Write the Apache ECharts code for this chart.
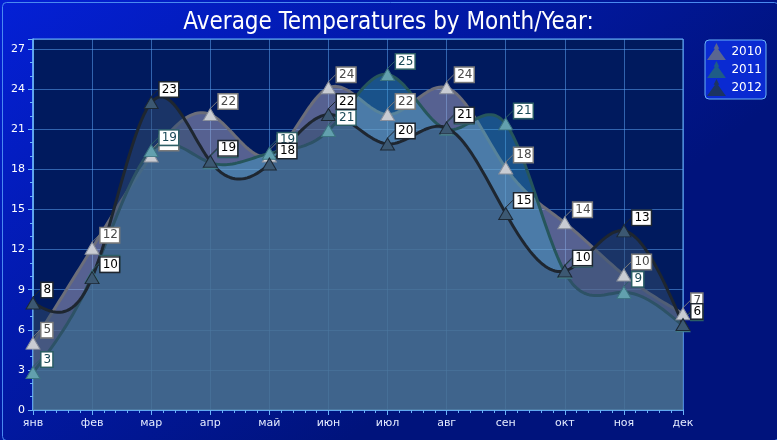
<!DOCTYPE html>
<html><head><meta charset="utf-8">
<script src="https://cdn.jsdelivr.net/npm/echarts@6/dist/echarts.min.js"></script>
<style>html,body{margin:0;padding:0;background:#001478}#c{width:777px;height:440px}</style>
</head><body><div id="c"></div>
<script>
const months = ['янв','фев','мар','апр','май','июн','июл','авг','сен','окт','ноя','дек'];
const years = ['2010','2011','2012'];
const t2010 = [5.0, 12.1, 19.0, 22.1, 19.0, 24.1, 22.1, 24.1, 18.1, 14.0, 10.1, 7.2];
const t2011 = [2.8, 10.0, 19.4, 18.5, 19.2, 20.9, 25.1, 21.0, 21.4, 10.3, 8.8, 6.3];
const t2012 = [8.0, 9.9, 23.0, 18.6, 18.4, 22.1, 19.9, 21.1, 14.7, 10.4, 13.4, 6.4];
const yTicks = [0, 3, 6, 9, 12, 15, 18, 21, 24, 27];

const styles = [
  {sym:'#c9ccd3', symB:'#8a909c', line:'#6c6e7a', area:'rgba(172,168,196,0.5)', lblB:'#7a7a7a', lblT:'#4a4a4a', leg:'#5a6690'},
  {sym:'#62a0ae', symB:'#3c7480', line:'#26565c', area:'rgba(60,160,200,0.42)', lblB:'#2c5e66', lblT:'#1c4a58', leg:'#1e5c88'},
  {sym:'#3c5872', symB:'#1c2834', line:'#1e2630', area:'rgba(52,78,112,0.5)', lblB:'#1e2630', lblT:'#000000', leg:'#1c3462'}
];
const allData = [t2010, t2011, t2012];

// natural cubic spline second derivatives (uniform spacing)
function splineM(ys) {
  const n = ys.length, M = new Array(n).fill(0);
  const m = n - 2, d = [];
  for (let i = 0; i < m; i++) {
    d[i] = 6 * (ys[i + 2] - 2 * ys[i + 1] + ys[i]);
  }
  const c = [], r = [];
  for (let i = 0; i < m; i++) {
    const b = 4 - (i > 0 ? c[i - 1] : 0);
    c[i] = 1 / b;
    r[i] = (d[i] - (i > 0 ? r[i - 1] : 0)) / b;
  }
  for (let i = m - 1; i >= 0; i--) {
    M[i + 1] = r[i] - (i < m - 1 ? c[i] * M[i + 2] : 0);
  }
  return M;
}
function splineVal(ys, M, i, t) {
  const u = 1 - t;
  return u * ys[i] + t * ys[i + 1] + ((u * u * u - u) * M[i] + (t * t * t - t) * M[i + 1]) / 6;
}

const series = [];
years.forEach((y, k) => {
  const ys = allData[k];
  const M = splineM(ys);
  series.push({
    name: y,
    type: 'custom',
    z: 2,
    silent: true,
    data: [[0, ys[0]]],
    renderItem: function (params, api) {
      const pts = [];
      const S = 24;
      for (let i = 0; i < ys.length - 1; i++) {
        for (let s = 0; s < S; s++) {
          const t = s / S;
          pts.push(api.coord([i + t, splineVal(ys, M, i, t)]));
        }
      }
      pts.push(api.coord([ys.length - 1, ys[ys.length - 1]]));
      const poly = pts.concat([api.coord([ys.length - 1, 0]), api.coord([0, 0])]);
      return {
        type: 'group',
        children: [
          {type: 'polygon', shape: {points: poly}, style: {fill: styles[k].area, stroke: null}},
          {type: 'polyline', shape: {points: pts}, style: {fill: null, stroke: styles[k].line, lineWidth: 3, lineJoin: 'round'}}
        ]
      };
    }
  });
  series.push({
    name: y,
    type: 'line',
    z: 2,
    data: ys.map((v, i) => [i, v]),
    symbol: 'triangle',
    symbolSize: [14, 12],
    itemStyle: {color: styles[k].sym, borderColor: styles[k].symB, borderWidth: 1},
    lineStyle: {width: 0, opacity: 0},
    label: {
      show: true, position: 'right', distance: 2,
      formatter: p => String(Math.round(p.value[1])),
      backgroundColor: '#ffffff', borderColor: styles[k].lblB, borderWidth: 1.5,
      padding: [1, 1, 0, 2], color: styles[k].lblT, fontSize: 12, lineHeight: 13,
      fontFamily: 'DejaVu Sans'
    },
    labelLayout: {dx: -1, dy: -13},
    labelLine: {show: true, lineStyle: {color: styles[k].lblB, width: 1}, length2: 0},
    emphasis: {disabled: true}
  });
});

const chart = echarts.init(document.getElementById('c'), null, {renderer: 'canvas'});
chart.setOption({
  animation: false,
  backgroundColor: {type: 'linear', x: 0, y: 0, x2: 0.45, y2: 1, colorStops: [
    {offset: 0, color: '#0420d6'}, {offset: 1, color: '#00137c'}]},
  title: {text: 'Average Temperatures by Month/Year:', left: 'center', top: 6,
    textStyle: {color: '#ffffff', fontSize: 24, fontWeight: 'normal', fontFamily: 'DejaVu Sans Condensed'}},
  legend: {
    right: 11, top: 40, orient: 'vertical', itemGap: 1, itemWidth: 20, itemHeight: 17,
    padding: [3, 4, 3, 2],
    backgroundColor: '#0a2ad2', borderColor: '#6ab4f8', borderWidth: 1, borderRadius: 4,
    textStyle: {color: '#ffffff', fontSize: 12, fontFamily: 'DejaVu Sans'},
    data: years.map((y, k) => ({name: y, icon: 'path://M10,0 L13,6 L7,6 Z M10,4 L20,18 L0,18 Z', itemStyle: {color: styles[k].leg, borderWidth: 0}}))
  },
  grid: {left: 33, right: 94, top: 39, bottom: 30, show: true, backgroundColor: '#001a5e', borderColor: '#6ab4f8', borderWidth: 1},
  xAxis: {
    type: 'value', min: 0, max: months.length - 1, interval: 1,
    axisLine: {show: true, lineStyle: {color: '#6ab4f8', width: 1.5}},
    axisTick: {show: true, inside: false, length: 5, lineStyle: {color: '#6ab4f8'}},
    minorTick: {show: true, splitNumber: 5, length: 3, lineStyle: {color: '#6ab4f8'}},
    splitLine: {show: true, lineStyle: {color: 'rgba(90,160,240,0.55)', width: 1}},
    axisLabel: {color: '#e4ecff', fontSize: 11, fontFamily: 'DejaVu Sans', margin: 8,
      formatter: v => months[v] || ''}
  },
  yAxis: {
    type: 'value', min: yTicks[0], max: 27.75, interval: 3,
    axisLine: {show: true, lineStyle: {color: '#6ab4f8', width: 1.5}},
    axisTick: {show: true, inside: false, length: 5, lineStyle: {color: '#6ab4f8'}},
    minorTick: {show: true, splitNumber: 3, length: 3, lineStyle: {color: '#6ab4f8'}},
    splitLine: {show: true, lineStyle: {color: 'rgba(90,160,240,0.55)', width: 1}},
    axisLabel: {color: '#ffffff', fontSize: 11, fontFamily: 'DejaVu Sans', margin: 8, showMaxLabel: false,
      formatter: v => (yTicks.indexOf(v) >= 0 ? String(v) : '')}
  },
  graphic: [{type: 'rect', left: 0, top: 0, z: 100, silent: true,
    shape: {x: 0, y: 0, width: 776, height: 438, r: 4},
    style: {fill: 'none', stroke: '#4a8af0', lineWidth: 1}}],
  series: series
});
</script></body></html>
